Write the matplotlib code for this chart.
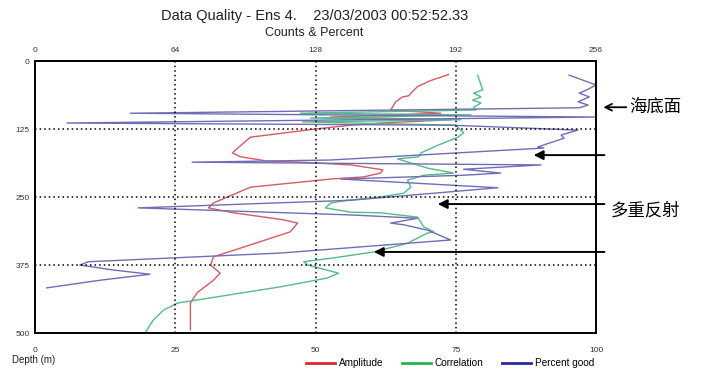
import matplotlib
matplotlib.use('agg')
import matplotlib.pyplot as plt
from matplotlib.lines import Line2D

plt.rcParams['font.family'] = ['Liberation Sans', 'DejaVu Sans']

# depth (m) and value (percent scale, 0-100)
amp_depth = [25, 36, 47, 56, 64, 66, 75, 90, 96, 103, 108, 114, 118, 125, 140, 164, 169, 176,
             184, 186, 191, 200, 206, 213, 217, 232, 261, 270, 279, 292, 298, 314, 338, 360,
             375, 390, 403, 426, 445, 494]
amp_val = [73.7, 70.5, 68.2, 67.3, 66.6, 65.5, 64.3, 63.4, 72.3, 52.7, 74.1, 61.6, 56.3, 50,
           38.4, 35.7, 35.2, 36.6, 41.4, 47.3, 56.3, 62, 61.6, 58.6, 52.7, 38.4, 31.8, 30.9,
           35.4, 44.3, 46.8, 45.5, 38.4, 31.8, 31.3, 33, 31.8, 28.9, 27.7, 27.7]

cor_depth = [26, 53, 59, 66, 72, 77, 85, 90, 96, 99, 105, 108, 112, 118, 132, 140, 154, 169,
             176, 180, 197, 206, 210, 219, 232, 243, 250, 256, 261, 270, 278, 279, 287, 305,
             314, 316, 335, 351, 362, 369, 375, 390, 399, 415, 445, 458, 476, 500]
cor_val = [78.9, 79.8, 78.2, 79.5, 78.0, 79.5, 78.2, 78.6, 47.3, 77.7, 49.1, 75.9, 47.7, 75,
           76.4, 75.4, 72, 68.8, 68.4, 64.6, 70, 74.6, 69.3, 66.4, 67, 65.7, 61.6, 55.7, 52.7,
           51.8, 56.3, 61.6, 68.2, 69.3, 71.1, 70, 66.4, 60.4, 53.2, 47.9, 48.6, 54.1, 52.1,
           43.8, 25.4, 22.9, 21.1, 19.6]

pg_depth = [26, 44, 52, 59, 66, 75, 81, 86, 96, 103, 114, 118, 127, 136, 142, 158, 160, 182,
            186, 191, 199, 206, 210, 217, 233, 256, 270, 283, 289, 298, 301, 311, 329, 353,
            369, 375, 384, 392, 403, 417]
pg_val = [95.2, 100, 98.6, 97, 98.8, 96.8, 98.6, 97, 17, 100, 5.7, 74.1, 96.8, 93.8, 94.3,
          89.6, 90.7, 52.7, 28, 90.2, 76.4, 83, 76.4, 54.5, 82.5, 56.3, 18.4, 56.3, 68.2,
          63.4, 65.7, 70, 74.1, 43.8, 9.5, 8, 13.8, 20.5, 11.6, 2.1]

names = ['Amplitude', 'Correlation', 'Percent good']
line_colors = ['#d95864', '#55bb88', '#6e6eb8']
legend_colors = ['#e02430', '#2fb050', '#2a2a9c']

# arrows: head (value, depth) ; tail sits just right of the frame
arrow_heads = [(88.9, 173), (71.8, 263), (60.4, 351)]

fig = plt.figure(figsize=(7.01, 3.71), dpi=100)
ax = fig.add_axes([35 / 701, 1 - 333 / 371, 561 / 701, 272 / 371])

ax.plot(amp_val, amp_depth, color=line_colors[0], lw=1)
ax.plot(cor_val, cor_depth, color=line_colors[1], lw=1)
ax.plot(pg_val, pg_depth, color=line_colors[2], lw=1)

ax.set_xlim(0, 100)
ax.set_ylim(500, 0)
ax.set_xticks([0, 25, 50, 75, 100])
ax.set_yticks([0, 125, 250, 375, 500])
ax.tick_params(length=0, labelsize=6, colors='#333333')
ax.tick_params(axis='x', pad=10)
ax.tick_params(axis='y', pad=4)
for v in [25, 50, 75]:
    ax.axvline(v, color='black', lw=1.1, ls=(0, (1, 2)))
for d in [125, 250, 375]:
    ax.axhline(d, color='black', lw=1.1, ls=(0, (1, 2)))
for s in ax.spines.values():
    s.set_linewidth(1.4)

top = ax.secondary_xaxis('top', functions=(lambda x: x * 2.56, lambda x: x / 2.56))
top.set_xticks([0, 64, 128, 192, 256])
top.tick_params(length=0, labelsize=6, pad=5, colors='#333333')
top.spines['top'].set_visible(False)

fig.text(315 / 701, 1 - 16 / 371, 'Data Quality - Ens 4.    23/03/2003 00:52:52.33',
         ha='center', va='center', fontsize=10.5, color='#222222')
fig.text(314 / 701, 1 - 33 / 371, 'Counts & Percent', ha='center', va='center',
         fontsize=9, color='#222222')
fig.text(12 / 701, 1 - 360 / 371, 'Depth (m)', ha='left', va='center', fontsize=7,
         color='#222222')

handles = [Line2D([], [], color=c, lw=2) for c in legend_colors]
fig.legend(handles, names, loc='center', bbox_to_anchor=(450 / 701, 1 - 363 / 371),
           ncol=3, frameon=False, fontsize=7.2, handlelength=2.9, columnspacing=1.9,
           handletextpad=0.35)

for hx, hy in arrow_heads:
    ax.annotate('', xy=(hx, hy), xytext=(101.5, hy), annotation_clip=False,
                arrowprops=dict(arrowstyle='-|>', color='black', lw=1.4,
                                mutation_scale=14, shrinkA=0, shrinkB=0))

# seabed marker: open arrow plus label
ax.annotate('', xy=(101.3, 85), xytext=(105.4, 85), annotation_clip=False,
            arrowprops=dict(arrowstyle='->', color='black', lw=1.3,
                            mutation_scale=12, shrinkA=0, shrinkB=0))
fig.text(629 / 701, 1 - 108 / 371, '海底面', ha='left', va='center', fontsize=12.5,
         family=['Noto Sans CJK SC', 'DejaVu Sans'])
fig.text(611 / 701, 1 - 211 / 371, '多重反射', ha='left', va='center', fontsize=12.5,
         family=['Noto Sans CJK SC', 'DejaVu Sans'])

fig.savefig('out.png', dpi=100)
